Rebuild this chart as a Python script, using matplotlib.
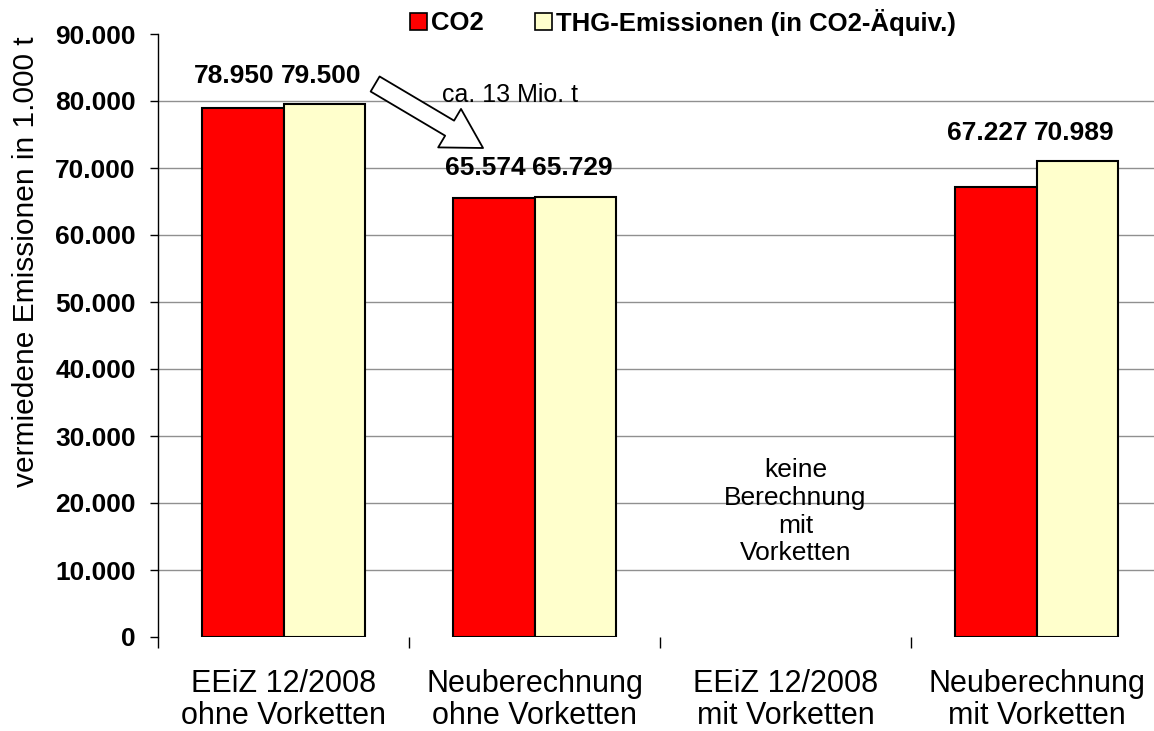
import matplotlib
matplotlib.use('Agg')
import matplotlib.pyplot as plt
from matplotlib.patches import Patch
import numpy as np

plt.rcParams['font.family'] = ['Liberation Sans', 'DejaVu Sans']

# Daten
kategorien = ['EEiZ 12/2008\nohne Vorketten', 'Neuberechnung\nohne Vorketten',
              'EEiZ 12/2008\nmit Vorketten', 'Neuberechnung\nmit Vorketten']
co2 = [78950, 65574, np.nan, 67227]
thg = [79500, 65729, np.nan, 70989]
labels_co2 = ['78.950', '65.574', '', '67.227']
labels_thg = ['79.500', '65.729', '', '70.989']
yticks = [0, 10000, 20000, 30000, 40000, 50000, 60000, 70000, 80000, 90000]
ytick_labels = ['0', '10.000', '20.000', '30.000', '40.000', '50.000',
                '60.000', '70.000', '80.000', '90.000']

fig = plt.figure(figsize=(11.54, 7.31), dpi=100)
ax = fig.add_axes([158 / 1154, 1 - 637 / 731, 1 - 158 / 1154, (637 - 34) / 731])

x = np.arange(len(kategorien))
w = 0.323
ax.bar(x - w / 2, co2, w, color='#ff0000', edgecolor='black', linewidth=1.5, zorder=3)
ax.bar(x + w / 2, thg, w, color='#ffffcc', edgecolor='black', linewidth=1.5, zorder=3)

# Beschriftungen ueber den Balken (je Gruppe auf gleicher Hoehe)
for i in range(len(x)):
    if labels_co2[i] == '':
        continue
    top = max(co2[i], thg[i])
    ax.annotate(labels_co2[i], (x[i] - w / 2, top), xytext=(-6, 12), textcoords='offset points',
                ha='center', va='bottom', fontsize=19, fontweight='bold')
    ax.annotate(labels_thg[i], (x[i] + w / 2, top), xytext=(-2, 12), textcoords='offset points',
                ha='center', va='bottom', fontsize=19, fontweight='bold')

ax.set_xlim(-0.5, 3.5 - 8 / 251)
ax.set_ylim(0, 90000)
ax.set_yticks(yticks)
ax.set_yticklabels(ytick_labels, fontsize=19, fontweight='bold')
ax.set_xticks(x)
ax.set_xticklabels(kategorien, fontsize=22, linespacing=1.1)
ax.set_xticks(np.arange(-0.5, 3.5, 1), minor=True)
ax.tick_params(axis='x', which='major', length=0, pad=23)
ax.tick_params(axis='x', which='minor', length=8, width=1, direction='out')
ax.tick_params(axis='y', length=6, width=1, direction='out', pad=10)

ax.yaxis.grid(True, color='#909090', linewidth=1, zorder=0)
gl = ax.get_ygridlines()
gl[0].set_visible(False)
gl[-1].set_visible(False)

for s in ['top', 'right', 'bottom']:
    ax.spines[s].set_visible(False)
ax.spines['left'].set_linewidth(1)

ax.set_ylabel('vermiedene Emissionen in 1.000 t', fontsize=21.5)
ax.yaxis.set_label_coords(-0.118, 0.623)

# Pfeil und Hinweise
ax.annotate('', xy=(0.795, 72985), xytext=(0.365, 82537),
            arrowprops=dict(arrowstyle='simple,head_width=2.3,head_length=2,tail_width=0.9',
                            fc='white', ec='black', lw=1.3, mutation_scale=14,
                            shrinkA=0, shrinkB=0), zorder=4)
ax.text(0.902, 80900, 'ca. 13 Mio. t', ha='center', va='center', fontsize=18)
ax.text(2.04, 18700, 'keine\nBerechnung\nmit\nVorketten', ha='center', va='center',
        fontsize=19, linespacing=1.2)

handles = [Patch(facecolor='#ff0000', edgecolor='black', linewidth=1.2),
           Patch(facecolor='#ffffcc', edgecolor='black', linewidth=1.2)]
fig.legend(handles, ['CO2', 'THG-Emissionen (in CO2-Äquiv.)'], loc='center',
           bbox_to_anchor=(683 / 1154, 1 - 22 / 731), ncol=2, frameon=False,
           prop={'size': 18.5, 'weight': 'bold'}, handlelength=0.65, handleheight=0.65,
           handletextpad=0.15, columnspacing=2.0)

fig.savefig('out.png', dpi=100)
